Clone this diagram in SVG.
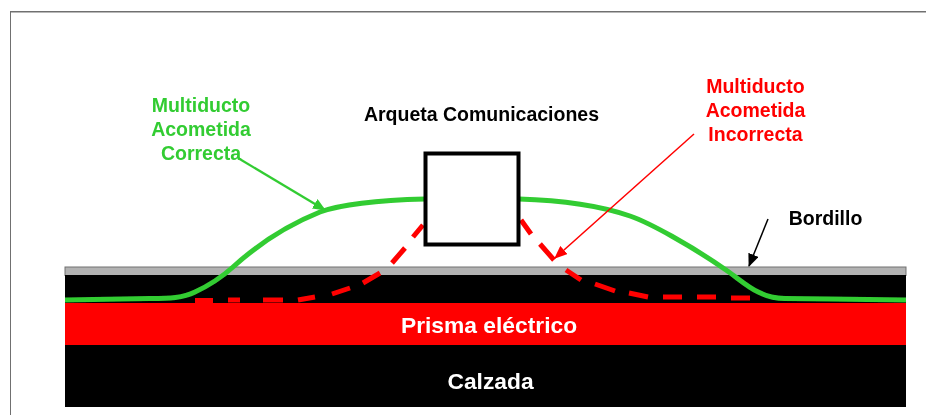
<svg xmlns="http://www.w3.org/2000/svg" width="926" height="415" viewBox="0 0 926 415">
<defs>
<marker id="ag" markerWidth="13" markerHeight="11" refX="12" refY="5.500" orient="auto" markerUnits="userSpaceOnUse"><path d="M0 0L13 5.500L0 11Z" fill="#33cc33"/></marker>
<marker id="ar" markerWidth="13" markerHeight="11" refX="12" refY="5.500" orient="auto" markerUnits="userSpaceOnUse"><path d="M0 0L13 5.500L0 11Z" fill="#ff0000"/></marker>
<marker id="ak" markerWidth="13" markerHeight="11" refX="12" refY="5.500" orient="auto" markerUnits="userSpaceOnUse"><path d="M0 0L13 5.500L0 11Z" fill="#000"/></marker>
<filter id="soft" x="0" y="0" width="100%" height="100%"><feGaussianBlur stdDeviation="0.45"/></filter>
</defs>
<style>
text{font-family:"Liberation Sans",Arial,sans-serif;font-weight:bold;font-size:19.500px;text-anchor:middle}
.big{font-size:22.800px}
.g{fill:#33cc33}.r{fill:#ff0000}.k{fill:#000}.w{fill:#fff}
.pipe{fill:none;stroke:#33cc33;stroke-width:5}
.bad{fill:none;stroke:#ff0000;stroke-width:5}
</style>
<rect width="926" height="415" fill="#fff"/>
<g filter="url(#soft)">
<path d="M10 415V11.500H926" fill="none" stroke="#707070" stroke-width="2"/>
<g id="bordillo"><rect x="65" y="267" width="841" height="8.500" fill="#b2b2b2" stroke="#707070" stroke-width="1"/></g>
<g id="base"><rect x="65" y="275" width="841" height="28" fill="#000"/></g>
<g id="prisma"><rect x="65" y="303" width="841" height="42" fill="#ff0000"/><text class="w big" x="489" y="333">Prisma eléctrico</text></g>
<g id="calzada"><rect x="65" y="345" width="841" height="62" fill="#000"/><text class="w big" x="490.500" y="389">Calzada</text></g>
<g id="connectors">
<path class="bad" d="M195 300.500H213M228 300H240M263 300H283M298 300L315 297M332 294L350 288M363 283L380 273M392 263L405 248M413 237L423 225"/>
<path class="bad" d="M521 220L531 234M540 244L554 260M566 270L581 280M595 284L615 291M629 293L648 297M663 297H682M697 297H716M731 298H750"/>
<path class="pipe" d="M65 300L150 298.500C170 298.500 183 298 195 292C210 285 222 277 233 267C255 247 285 226 320 212C345 203 385 200 425 199"/>
<path class="pipe" d="M519 199C555 200 595 204 630 216C650 223 690 245 726 270C745 283 758 298 785 298.500L830 299L906 300"/>
<path fill="none" stroke="#33cc33" stroke-width="2.200" marker-end="url(#ag)" d="M238 158L325 210"/>
<path fill="none" stroke="#ff0000" stroke-width="1.500" marker-end="url(#ar)" d="M694 134L555 258"/>
<path fill="none" stroke="#000" stroke-width="1.500" marker-end="url(#ak)" d="M768 219L749 266"/>
</g>
<g id="arqueta"><rect x="425.500" y="153.500" width="93" height="91" fill="#fff" stroke="#000" stroke-width="4"/><text class="k" x="481.500" y="121">Arqueta Comunicaciones</text></g>
<g id="correcta"><text class="g" x="201" y="112">Multiducto</text><text class="g" x="201" y="136">Acometida</text><text class="g" x="201" y="160">Correcta</text></g>
<g id="incorrecta"><text class="r" x="755.500" y="93">Multiducto</text><text class="r" x="755.500" y="117">Acometida</text><text class="r" x="755.500" y="141">Incorrecta</text></g>
<g id="label-bordillo"><text class="k" x="825.500" y="225">Bordillo</text></g>
</g>
</svg>
